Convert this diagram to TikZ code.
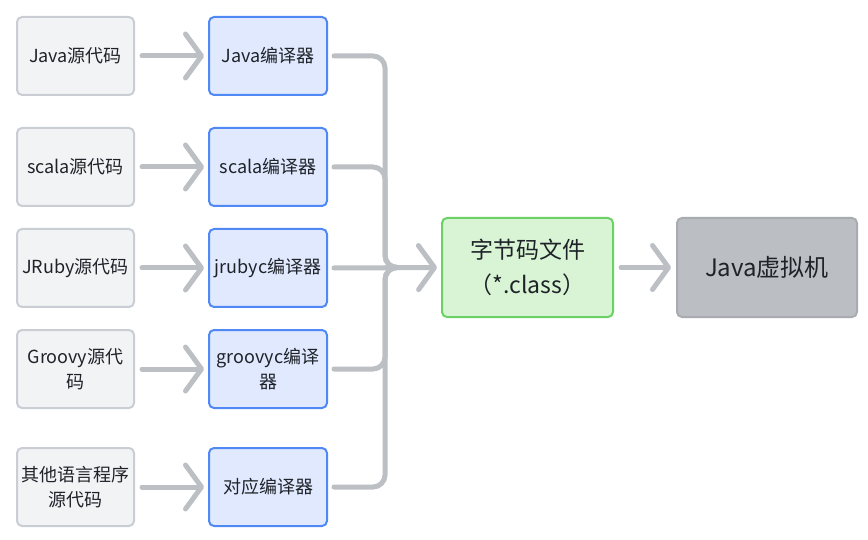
\documentclass[tikz,border=0pt]{standalone}
\usepackage{fontspec}
\setmainfont{Noto Sans CJK SC}
\usetikzlibrary{arrows.meta}
\definecolor{srcfill}{HTML}{F2F3F5}
\definecolor{srcdraw}{HTML}{C9CDD4}
\definecolor{cmpfill}{HTML}{E0E9FE}
\definecolor{cmpdraw}{HTML}{5089F5}
\definecolor{bcfill}{HTML}{D9F4D5}
\definecolor{bcdraw}{HTML}{6AD265}
\definecolor{vmfill}{HTML}{BBBEC3}
\definecolor{vmdraw}{HTML}{A8ABB0}
\definecolor{conn}{HTML}{BCBFC3}
\definecolor{txt}{HTML}{1F2329}
\tikzset{
  box/.style={rounded corners=5pt, line width=2pt, align=center, inner sep=0pt,
    font=\fontsize{18}{25}\selectfont, text=txt},
  srcbox/.style={box, fill=srcfill, draw=srcdraw, minimum width=117pt, minimum height=78pt},
  cmpbox/.style={box, fill=cmpfill, draw=cmpdraw, minimum width=118pt, minimum height=78pt},
  bigbox/.style={box, minimum height=99pt, font=\fontsize{23}{35}\selectfont},
  conn/.style={draw=conn, line width=5pt, line cap=round, line join=round,
    -{Straight Barb[length=16pt,width=44pt,line cap=round,line join=round]}},
  merge/.style={draw=conn, line width=5pt, line cap=round, rounded corners=12pt},
}
\begin{document}
\begin{tikzpicture}[x=1pt,y=-1pt]
\useasboundingbox (0,0) rectangle (868,540);
% sources
\node[srcbox] (s1) at (75.5,56) {Java源代码};
\node[srcbox] (s2) at (75.5,167) {scala源代码};
\node[srcbox] (s3) at (75.5,268) {JRuby源代码};
\node[srcbox] (s4) at (75.5,369) {Groovy源代\\码};
\node[srcbox] (s5) at (75.5,487) {其他语言程序\\源代码};
% compilers
\node[cmpbox] (c1) at (268,56) {Java编译器};
\node[cmpbox] (c2) at (268,167) {scala编译器};
\node[cmpbox] (c3) at (268,268) {jrubyc编译器};
\node[cmpbox] (c4) at (268,369) {groovyc编译\\器};
\node[cmpbox] (c5) at (268,487) {对应编译器};
% bytecode + vm
\node[bigbox, fill=bcfill, draw=bcdraw, minimum width=171pt] (bc) at (527.5,267.5) {字节码文件\\（*.class）};
\node[bigbox, fill=vmfill, draw=vmdraw, minimum width=180pt, font=\fontsize{24}{35}\selectfont] (vm) at (767,267.5) {Java虚拟机};
% source -> compiler
\foreach \i in {1,...,5}{
  \draw[conn] ([xshift=7pt]s\i.east) -- ([xshift=-4pt]c\i.west);
}
% compilers -> bytecode
\coordinate (mx) at (385,268);
\foreach \i in {1,2,4,5}{
  \draw[merge] ([xshift=6pt]c\i.east) -| (mx |- bc.west) -- ++(10,0);
}
\draw[conn] ([xshift=6pt]c3.east) -- ([xshift=-4pt]bc.west);
\draw[conn] ([xshift=7pt]bc.east) -- ([xshift=-5pt]vm.west);
\end{tikzpicture}
\end{document}
